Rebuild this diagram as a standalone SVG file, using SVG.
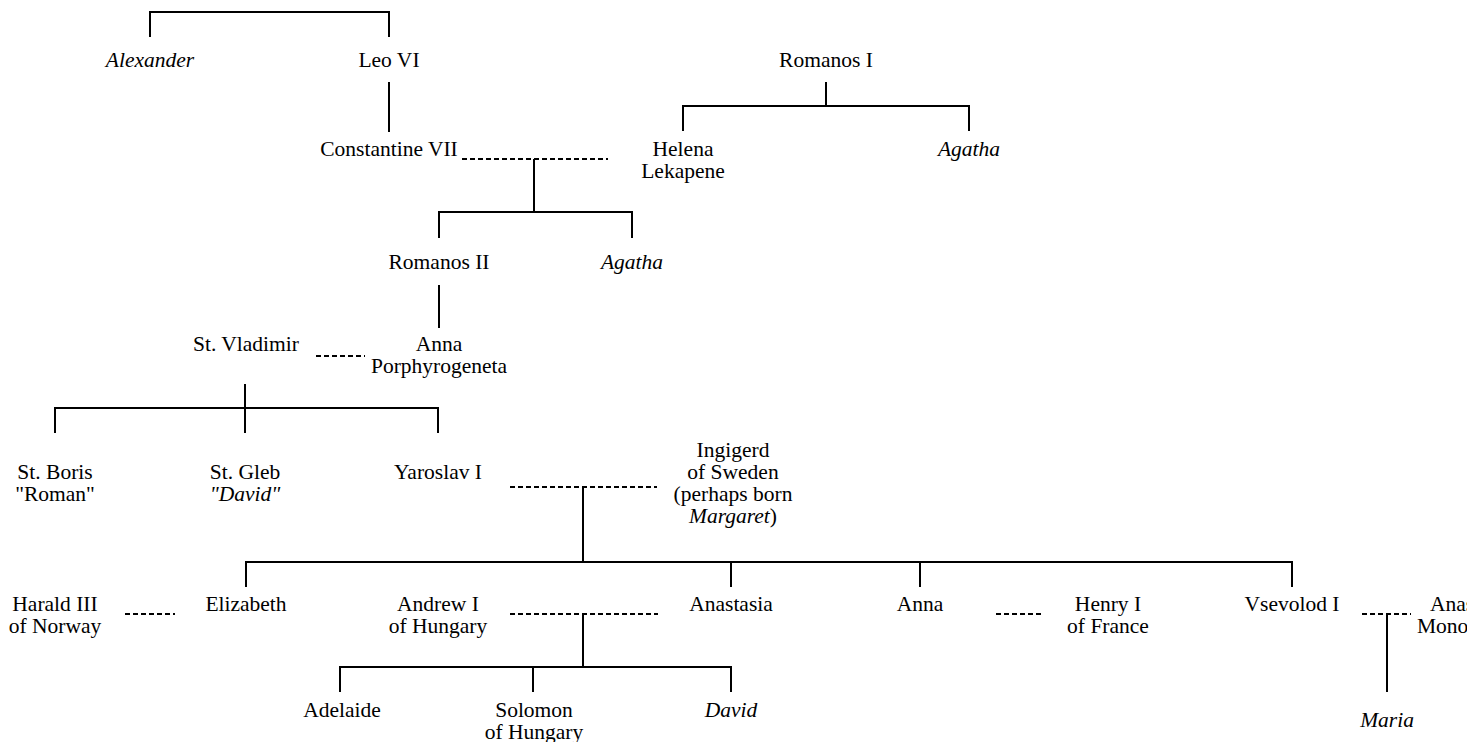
<svg xmlns="http://www.w3.org/2000/svg" width="1483" height="742" viewBox="0 0 1483 742">
<style>
text{font-family:"Liberation Serif","Times New Roman",serif;font-size:21.5px;text-anchor:middle;fill:#000}
.i{font-style:italic}
.s{text-anchor:start}
.l{stroke:#000;stroke-width:2;fill:none}
.d{stroke-dasharray:5 3}
</style>
<defs><clipPath id="edge"><rect x="0" y="0" width="1467" height="742"/></clipPath></defs>
<rect width="1483" height="742" fill="#fff"/>
<g id="connectors">
<path class="l" d="M150,37V12H389V37"/>
<path class="l" d="M389,82V132"/>
<path class="l" d="M826,82V106M683,131V106H969V131"/>
<path class="l d" d="M462,159H608"/>
<path class="l" d="M534,159V212M439,238V212H632V238"/>
<path class="l" d="M439,285V328"/>
<path class="l d" d="M316,356H365"/>
<path class="l" d="M245,384V433M55,433V408H438V433"/>
<path class="l d" d="M510,487H657"/>
<path class="l" d="M583,487V562M246,587V562H1292V587M731,562V587M920,562V587"/>
<path class="l d" d="M125,614H175"/>
<path class="l d" d="M510,614H658"/>
<path class="l" d="M583,614V667M340,692V667H731V692M533,667V692"/>
<path class="l d" d="M996,614H1042"/>
<path class="l d" d="M1362,614H1411"/>
<path class="l" d="M1387,614V692"/>
</g>
<g id="alexander"><text class="i" x="150" y="67">Alexander</text></g>
<g id="leo6"><text x="389" y="67">Leo VI</text></g>
<g id="romanos1"><text x="826" y="67">Romanos I</text></g>
<g id="constantine7"><text x="389" y="156">Constantine VII</text></g>
<g id="helena"><text x="683" y="156">Helena</text><text x="683" y="178">Lekapene</text></g>
<g id="agatha1"><text class="i" x="969" y="156">Agatha</text></g>
<g id="romanos2"><text x="439" y="269">Romanos II</text></g>
<g id="agatha2"><text class="i" x="632" y="269">Agatha</text></g>
<g id="vladimir"><text x="246" y="351">St. Vladimir</text></g>
<g id="anna-porph"><text x="439" y="351">Anna</text><text x="439" y="373">Porphyrogeneta</text></g>
<g id="boris"><text x="55" y="479">St. Boris</text><text x="55" y="501">"Roman"</text></g>
<g id="gleb"><text x="245" y="479">St. Gleb</text><text class="i" x="245" y="501">"David"</text></g>
<g id="yaroslav"><text x="438" y="479">Yaroslav I</text></g>
<g id="ingigerd"><text x="733" y="457">Ingigerd</text><text x="733" y="479">of Sweden</text><text x="733" y="501">(perhaps born</text><text x="733" y="523"><tspan class="i">Margaret</tspan>)</text></g>
<g id="harald"><text x="55" y="611">Harald III</text><text x="55" y="633">of Norway</text></g>
<g id="elizabeth"><text x="246" y="611">Elizabeth</text></g>
<g id="andrew"><text x="438" y="611">Andrew I</text><text x="438" y="633">of Hungary</text></g>
<g id="anastasia"><text x="731" y="611">Anastasia</text></g>
<g id="anna"><text x="920" y="611">Anna</text></g>
<g id="henry"><text x="1108" y="611">Henry I</text><text x="1108" y="633">of France</text></g>
<g id="vsevolod"><text x="1292" y="611">Vsevolod I</text></g>
<g id="anastasia-mono" clip-path="url(#edge)"><text class="s" x="1430" y="611">Anas</text><text class="s" x="1417" y="633">Mono</text></g>
<g id="adelaide"><text x="342" y="717">Adelaide</text></g>
<g id="solomon"><text x="534" y="717">Solomon</text><text x="534" y="739">of Hungary</text></g>
<g id="david"><text class="i" x="731" y="717">David</text></g>
<g id="maria"><text class="i" x="1387" y="727">Maria</text></g>
</svg>
